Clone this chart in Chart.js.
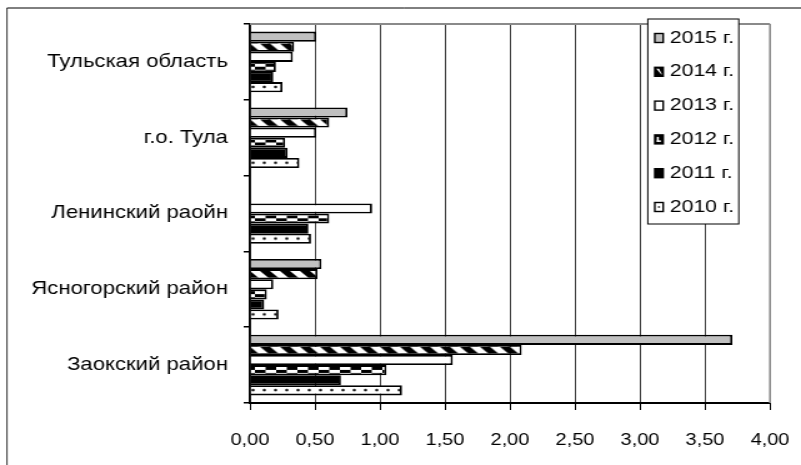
<!DOCTYPE html>
<html>
<head>
<meta charset="utf-8">
<script src="https://cdn.jsdelivr.net/npm/chart.js@4/dist/chart.umd.min.js"></script>
<style>
html,body{margin:0;padding:0;background:#fff;overflow:hidden}
canvas{display:block;width:801px;height:465px}
</style>
</head>
<body>
<canvas id="c" width="641" height="465" style="width:801px;height:465px"></canvas>
<script>
// ---- data ----
const categories = ['Тульская область', 'г.о. Тула', 'Ленинский раойн', 'Ясногорский район', 'Заокский район'];
const seriesLabels = ['2015 г.', '2014 г.', '2013 г.', '2012 г.', '2011 г.', '2010 г.'];
const values2015 = [0.51, 0.75, null, 0.55, 3.71];
const values2014 = [0.34, 0.61, null, 0.52, 2.09];
const values2013 = [0.33, 0.51, 0.94, 0.18, 1.56];
const values2012 = [0.20, 0.27, 0.61, 0.13, 1.05];
const values2011 = [0.18, 0.29, 0.45, 0.11, 0.70];
const values2010 = [0.25, 0.38, 0.47, 0.22, 1.17];
const xTickLabels = ['0,00', '0,50', '1,00', '1,50', '2,00', '2,50', '3,00', '3,50', '4,00'];

const seriesValues = [values2015, values2014, values2013, values2012, values2011, values2010];
const seriesKinds = ['gray', 'stripes', 'white', 'checker', 'black', 'dots'];

const FONT = '"Liberation Sans", Arial, sans-serif';
const BORDER_W = 1.8;

function makeTile(kind) {
  const t = document.createElement('canvas');
  const g = t.getContext('2d');
  if (kind === 'stripes') {
    t.width = 16; t.height = 7;
    g.fillStyle = '#fff'; g.fillRect(0, 0, 16, 7);
    g.fillStyle = '#000';
    g.beginPath(); g.moveTo(0, 0); g.lineTo(8, 0); g.lineTo(15, 7); g.lineTo(7, 7); g.closePath(); g.fill();
  } else if (kind === 'checker') {
    t.width = 17; t.height = 6;
    g.fillStyle = '#fff'; g.fillRect(0, 0, 17, 6);
    g.fillStyle = '#000';
    g.fillRect(8.5, 0, 8.5, 3);
    g.fillRect(0, 3, 8.5, 3);
  } else if (kind === 'dots') {
    t.width = 9; t.height = 6;
    g.fillStyle = '#fff'; g.fillRect(0, 0, 9, 6);
    g.fillStyle = '#111';
    g.beginPath(); g.arc(4.5, 3, 1.3, 0, Math.PI * 2); g.fill();
  }
  return t;
}

function fillFor(kind) {
  if (kind === 'gray') return '#c0c0c0';
  if (kind === 'white') return '#ffffff';
  if (kind === 'black') return '#000000';
  const tile = makeTile(kind);
  return function (c) {
    const chart = c.chart;
    const ys = chart.scales && chart.scales.y;
    const pat = chart.ctx.createPattern(tile, 'repeat');
    if (c.type === 'data' && ys && ys.ticks && ys.ticks.length > 1) {
      const step = ys.getPixelForValue(1) - ys.getPixelForValue(0);
      const size = step * 0.8 / seriesLabels.length;
      const top = ys.getPixelForValue(c.dataIndex) - step * 0.4 + c.datasetIndex * size + BORDER_W;
      pat.setTransform(new DOMMatrix([1, 0, 0, 1, 0, top]));
    }
    return pat;
  };
}

const datasets = seriesLabels.map((label, i) => ({
  label: label,
  data: seriesValues[i],
  kind: seriesKinds[i],
  backgroundColor: fillFor(seriesKinds[i]),
  borderColor: '#000',
  borderWidth: BORDER_W,
  categoryPercentage: 0.8,
  barPercentage: 1.0
}));

const framePlugin = {
  id: 'frame',
  beforeDraw(chart) {
    const g = chart.ctx;
    g.save();
    g.fillStyle = '#fff';
    g.fillRect(0, 0, chart.width, chart.height);
    g.restore();
  },
  afterDraw(chart) {
    const g = chart.ctx;
    const a = chart.chartArea;
    g.save();
    // plot area frame (top/right) in gray
    g.strokeStyle = '#8a8a8a';
    g.lineWidth = 2;
    g.beginPath(); g.moveTo(a.left, a.top); g.lineTo(a.right, a.top); g.stroke();
    g.lineWidth = 1.6;
    g.beginPath(); g.moveTo(a.right, a.top); g.lineTo(a.right, a.bottom); g.stroke();
    // outer chart border
    g.strokeStyle = '#000';
    g.lineWidth = 1;
    g.beginPath(); g.moveTo(5.6, 8); g.lineTo(chart.width, 8); g.stroke();
    g.lineWidth = 0.8;
    g.beginPath(); g.moveTo(5.6, 8); g.lineTo(5.6, chart.height); g.stroke();

    // legend box
    const bx = 518.4, by = 19, bw = 72.8, bh = 205;
    g.fillStyle = '#fff';
    g.fillRect(bx, by, bw, bh);
    g.strokeStyle = '#000';
    g.lineWidth = 1;
    g.strokeRect(bx, by, bw, bh);
    g.font = '17px ' + FONT;
    g.textBaseline = 'middle';
    g.textAlign = 'left';
    chart.data.datasets.forEach((ds, i) => {
      const cy = 38 + i * 33.8;
      const mx = 524, mw = 6.7, mh = 9, my = cy - mh / 2;
      const k = ds.kind;
      g.fillStyle = k === 'gray' ? '#c0c0c0' : (k === 'white' || k === 'dots') ? '#fff' : '#000';
      g.fillRect(mx, my, mw, mh);
      g.fillStyle = '#fff';
      if (k === 'stripes') {
        g.beginPath(); g.moveTo(mx + 1.2, my + 1.5); g.lineTo(mx + 3.4, my + 1.5); g.lineTo(mx + mw - 1.2, my + mh - 2.5); g.lineTo(mx + mw - 1.2, my + mh - 1.5); g.closePath(); g.fill();
      } else if (k === 'checker') {
        g.fillRect(mx + 1.6, my + 2, 1.6, mh - 4);
        g.fillRect(mx + 1.6, my + mh - 3.5, mw - 3.4, 1.5);
      } else if (k === 'dots') {
        g.fillStyle = '#555';
        g.fillRect(mx + mw / 2 - 0.8, cy - 1, 1.6, 2);
      }
      g.strokeStyle = '#000';
      g.lineWidth = 1.4;
      g.strokeRect(mx, my, mw, mh);
      g.fillStyle = '#000';
      g.fillText(ds.label, 536, cy);
    });
    g.restore();
  }
};

Chart.defaults.font.family = FONT;
Chart.defaults.font.size = 16;
Chart.defaults.color = '#000';

new Chart(document.getElementById('c'), {
  type: 'bar',
  data: { labels: categories, datasets: datasets },
  options: {
    indexAxis: 'y',
    responsive: false,
    animation: false,
    events: [],
    layout: { padding: { top: 24, right: 24.8, left: 0, bottom: 0 } },
    plugins: { legend: { display: false }, tooltip: { enabled: false } },
    scales: {
      x: {
        type: 'linear',
        min: 0, max: 4,
        afterFit(s) { s.height = 62; s.paddingLeft = 0; s.paddingRight = 0; },
        ticks: {
          stepSize: 0.5,
          padding: 21,
          maxRotation: 0,
          autoSkip: false,
          font: { size: 16, family: FONT },
          color: '#000',
          callback: (v, i) => xTickLabels[i]
        },
        grid: { color: '#404040', lineWidth: 1, tickColor: '#000', tickLength: 7, drawOnChartArea: true },
        border: { color: '#000', width: 2 }
      },
      y: {
        afterFit(s) { s.width = 200; s.paddingTop = 0; s.paddingBottom = 0; },
        ticks: { padding: 12.6, autoSkip: false, font: { size: 17.7, family: FONT }, color: '#000' },
        grid: { drawOnChartArea: false, drawTicks: true, tickLength: 5, color: '#000', tickColor: '#000', lineWidth: 1.5, offset: true },
        border: { color: '#000', width: 1.6, z: 1 }
      }
    }
  },
  plugins: [framePlugin]
});
</script>
</body>
</html>
